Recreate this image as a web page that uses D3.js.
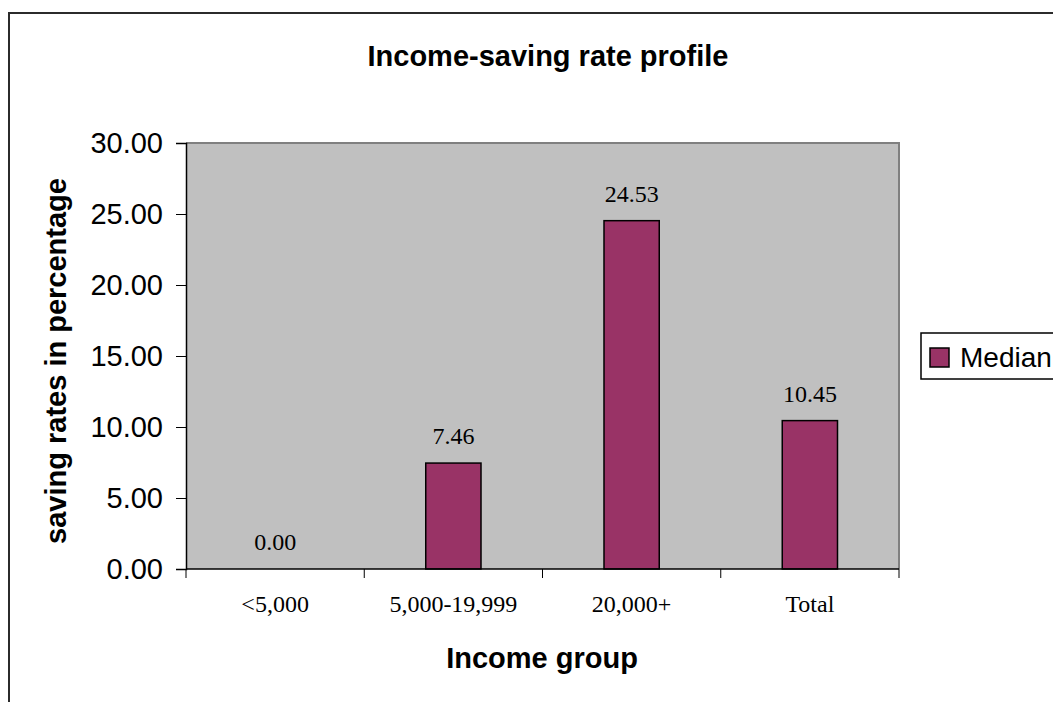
<!DOCTYPE html>
<html>
<head>
<meta charset="utf-8">
<script src="https://cdn.jsdelivr.net/npm/d3@7"></script>
<style>
  html, body { margin: 0; padding: 0; background: #fff; }
  svg { display: block; }
</style>
</head>
<body>
<svg id="chart" width="1053" height="702"></svg>
<script>
// Income groups and median saving rates (%)
const categories = ["<5,000", "5,000-19,999", "20,000+", "Total"];
const medianValues = [0.00, 7.46, 24.53, 10.45];
const yTicks = [0, 5, 10, 15, 20, 25, 30];
const seriesName = "Median";

const svg = d3.select("#chart");
const W = 1053, H = 702;

// outer frame
svg.append("rect")
  .attr("x", 9).attr("y", 13)
  .attr("width", W + 20).attr("height", H + 20)
  .attr("fill", "#fff").attr("stroke", "#2b2b2b").attr("stroke-width", 2);

const plot = { left: 186, top: 143, right: 899, bottom: 569 };

const x = d3.scaleBand()
  .domain(categories)
  .range([plot.left, plot.right])
  .paddingInner(0).paddingOuter(0);

const y = d3.scaleLinear()
  .domain([0, 30])
  .range([plot.bottom, plot.top]);

// plot area background
svg.append("rect")
  .attr("x", plot.left).attr("y", plot.top)
  .attr("width", plot.right - plot.left).attr("height", plot.bottom - plot.top)
  .attr("fill", "#c0c0c0");

// top and right border of plot area
svg.append("path")
  .attr("d", `M${plot.left},${plot.top}H${plot.right}V${plot.bottom}`)
  .attr("fill", "none").attr("stroke", "#808080").attr("stroke-width", 2);

// bars
const barW = x.bandwidth() * 0.31;
svg.append("g").selectAll("rect")
  .data(categories.map((c, i) => ({ c, v: medianValues[i] })))
  .join("rect")
  .attr("x", d => x(d.c) + x.bandwidth() / 2 - barW / 2)
  .attr("y", d => y(d.v))
  .attr("width", barW)
  .attr("height", d => y(0) - y(d.v))
  .attr("fill", "#993366")
  .attr("stroke", "#000")
  .attr("stroke-width", d => d.v > 0 ? 1.5 : 0);

// value labels
svg.append("g").selectAll("text")
  .data(categories.map((c, i) => ({ c, v: medianValues[i] })))
  .join("text")
  .attr("x", d => x(d.c) + x.bandwidth() / 2)
  .attr("y", d => y(d.v) - 19)
  .attr("text-anchor", "middle")
  .attr("font-family", "'Liberation Serif', 'Times New Roman', serif")
  .attr("font-size", 24)
  .attr("fill", "#000")
  .text(d => d.v.toFixed(2));

// y axis
const yAxis = d3.axisLeft(y)
  .tickValues(yTicks)
  .tickSize(10)
  .tickPadding(13)
  .tickFormat(d => d.toFixed(2));
const gy = svg.append("g")
  .attr("transform", `translate(${plot.left},0)`)
  .call(yAxis);
gy.select(".domain").attr("stroke", "#000").attr("stroke-width", 1.5);
gy.selectAll(".tick line").attr("stroke", "#000");
gy.selectAll(".tick text")
  .attr("font-family", "'Liberation Sans', Arial, sans-serif")
  .attr("font-size", 29)
  .attr("fill", "#000");

// x axis with ticks at category boundaries
const gx = svg.append("g")
  .attr("transform", `translate(0,${plot.bottom})`);
gx.append("line")
  .attr("x1", plot.left).attr("x2", plot.right)
  .attr("stroke", "#000").attr("stroke-width", 1.5);
const bounds = categories.map(c => x(c)).concat([x(categories[categories.length - 1]) + x.bandwidth()]);
gx.selectAll("line.tk")
  .data(bounds)
  .join("line")
  .attr("class", "tk")
  .attr("x1", d => d).attr("x2", d => d)
  .attr("y1", 0).attr("y2", 9)
  .attr("stroke", "#000");
gx.selectAll("text")
  .data(categories)
  .join("text")
  .attr("x", d => x(d) + x.bandwidth() / 2)
  .attr("y", 43)
  .attr("text-anchor", "middle")
  .attr("font-family", "'Liberation Serif', 'Times New Roman', serif")
  .attr("font-size", 24)
  .attr("fill", "#000")
  .text(d => d);

// titles
svg.append("text")
  .attr("x", 548).attr("y", 66)
  .attr("text-anchor", "middle")
  .attr("font-family", "'Liberation Sans', Arial, sans-serif")
  .attr("font-weight", "bold")
  .attr("font-size", 29)
  .text("Income-saving rate profile");

svg.append("text")
  .attr("x", 542).attr("y", 668)
  .attr("text-anchor", "middle")
  .attr("font-family", "'Liberation Sans', Arial, sans-serif")
  .attr("font-weight", "bold")
  .attr("font-size", 29)
  .text("Income group");

svg.append("text")
  .attr("transform", "translate(66,361) rotate(-90)")
  .attr("text-anchor", "middle")
  .attr("font-family", "'Liberation Sans', Arial, sans-serif")
  .attr("font-weight", "bold")
  .attr("font-size", 29)
  .text("saving rates in percentage");

// legend
const lg = svg.append("g");
lg.append("rect")
  .attr("x", 921).attr("y", 333)
  .attr("width", 200).attr("height", 46)
  .attr("fill", "#fff").attr("stroke", "#000").attr("stroke-width", 1.5);
lg.append("rect")
  .attr("x", 930).attr("y", 348)
  .attr("width", 19).attr("height", 19)
  .attr("fill", "#993366").attr("stroke", "#000").attr("stroke-width", 1.5);
lg.append("text")
  .attr("x", 960).attr("y", 367)
  .attr("font-family", "'Liberation Sans', Arial, sans-serif")
  .attr("font-size", 28)
  .attr("fill", "#000")
  .text(seriesName);
</script>
</body>
</html>
